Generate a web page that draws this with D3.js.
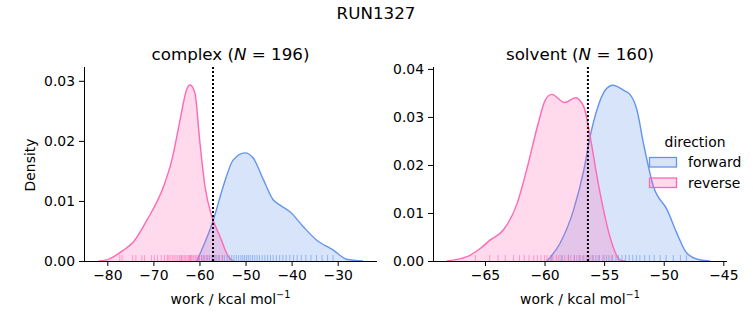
<!DOCTYPE html>
<meta charset="utf-8">
<style>
    body { margin: 0; background: #fff; }
    text { font-family: "DejaVu Sans", sans-serif; fill: #000; }
    .tick text { font-size: 13.9px; }
    .axis path, .axis line { stroke: #000; stroke-width: 1; }
</style>
<svg width="753" height="325"></svg>
<script src="https://d3js.org/d3.v7.min.js"></script>
<script>

// kde curves as [work, density]
var complexForward = [[-60.6,0],[-59.2,0.0024],[-57.0,0.0068],[-54.85,0.0124],[-52.7,0.0168],[-50.1,0.0180],
    [-48.3,0.0171],[-46.1,0.0135],[-44.0,0.0102],[-42.5,0.0093],[-40.35,0.0082],[-37.45,0.0057],
    [-34.6,0.0035],[-30.95,0.0018],[-28.1,0.0003],[-24.5,0]];
var complexReverse = [[-81.9,0],[-80.1,0.0002],[-76.5,0.0018],[-74.3,0.0032],[-71.4,0.0068],[-67.8,0.0124],
    [-66.0,0.0168],[-64.2,0.0235],[-62.8,0.0285],[-62.05,0.0293],[-61.0,0.0280],[-59.9,0.0197],
    [-58.8,0.0124],[-57.3,0.0074],[-55.5,0.0040],[-53.7,0.0007],[-52.6,0]];
var solventForward = [[-59.8,0],[-58.7,0.0037],[-57.57,0.0106],[-56.7,0.0190],[-56.17,0.0260],[-55.6,0.0315],
    [-54.9,0.0356],[-54.26,0.0366],[-53.4,0.0356],[-52.8,0.0346],[-52.25,0.0315],[-51.7,0.0245],
    [-50.86,0.0155],[-49.7,0.0106],[-48.9,0.0058],[-48.05,0.0016],[-46.9,0.0002],[-46.1,0]];
var solventReverse = [[-68.2,0],[-66.5,0.0009],[-65.4,0.0026],[-64.55,0.0044],[-63.44,0.0065],[-62.3,0.0120],
    [-61.5,0.0190],[-60.6,0.0280],[-59.94,0.0335],[-59.4,0.0347],[-58.3,0.0330],[-57.4,0.0340],
    [-56.7,0.0321],[-56.17,0.0259],[-55.6,0.0176],[-55.05,0.0106],[-54.35,0.0037],[-53.65,0.0002],[-53.2,0]];

// rug positions
var complexForwardRug = [-60.1,-59.5,-59.0,-58.4,-57.9,-57.3,-56.8,-56.2,-55.7,-55.1,-54.6,-54.0,-53.5,-53.0,
    -52.5,-52.0,-51.5,-51.0,-50.6,-50.2,-49.8,-49.4,-49.0,-48.5,-48.0,-47.5,-47.0,-46.4,-45.8,-45.2,-44.6,
    -44.0,-43.3,-42.6,-41.9,-41.2,-40.4,-39.6,-38.8,-37.9,-36.9,-35.8,-34.6,-33.4,-32.2,-31.0];
var complexReverseRug = [-77.3,-76.8,-74.5,-73.8,-72.5,-71.9,-70.4,-69.8,-69.1,-68.3,-67.6,-67.0,-66.8,-66.4,
    -65.9,-65.5,-65.1,-64.7,-64.3,-64.0,-63.9,-63.6,-63.3,-63.0,-62.7,-62.4,-62.2,-62.0,-61.9,-61.7,-61.4,
    -61.2,-60.9,-60.6,-60.3,-60.0,-59.6,-59.2,-58.8,-58.3,-57.8,-57.2,-56.5,-55.8,-55.0];
var solventForwardRug = [-59.4,-58.6,-58.0,-57.5,-57.1,-56.7,-56.3,-56.0,-55.7,-55.4,-55.1,-54.8,-54.6,-54.3,
    -54.0,-53.8,-53.5,-53.2,-52.9,-52.6,-52.3,-52.0,-51.6,-51.2,-50.8,-50.3,-49.8,-49.2,-48.6,-48.1];
var solventReverseRug = [-65.8,-64.6,-63.9,-63.3,-62.6,-62.1,-61.7,-61.3,-60.9,-60.6,-60.3,-60.0,-59.8,-59.5,
    -59.3,-59.0,-58.8,-58.5,-58.3,-58.0,-57.8,-57.5,-57.3,-57.0,-56.8,-56.5,-56.2,-55.9,-55.5,-55.0,-54.4];

var complexXTicks = [-80, -70, -60, -50, -40, -30];
var complexYTicks = [0, 0.01, 0.02, 0.03];
var solventXTicks = [-65, -60, -55, -50, -45];
var solventYTicks = [0, 0.01, 0.02, 0.03, 0.04];

var colors = { forward: "#6495ed", reverse: "#ff69b4" };

var svg = d3.select("svg");

svg.append("text")
    .attr("x", 376).attr("y", 19)
    .attr("text-anchor", "middle")
    .attr("font-size", 16.7)
    .text("RUN1327");

function panel(opt) {
    var x = d3.scaleLinear().domain(opt.xDomain).range([opt.left, opt.right]);
    var y = d3.scaleLinear().domain([0, opt.yMax]).range([261, 67]);

    var area = d3.area()
        .x(function(d) { return x(d[0]); })
        .y0(y(0))
        .y1(function(d) { return y(d[1]); })
        .curve(d3.curveMonotoneX);
    var line = area.lineY1();

    var g = svg.append("g");

    opt.series.forEach(function(s) {
        g.append("path")
            .datum(s.kde)
            .attr("d", area)
            .attr("fill", colors[s.name])
            .attr("fill-opacity", 0.25);
        g.append("path")
            .datum(s.kde)
            .attr("d", line)
            .attr("fill", "none")
            .attr("stroke", colors[s.name])
            .attr("stroke-width", 1.4);
    });

    opt.series.forEach(function(s) {
        g.selectAll(null)
            .data(s.rug)
            .enter()
            .append("line")
            .attr("x1", function(d) { return x(d); })
            .attr("x2", function(d) { return x(d); })
            .attr("y1", y(0))
            .attr("y2", y(0) - 6)
            .attr("stroke", colors[s.name])
            .attr("stroke-opacity", 0.6)
            .attr("stroke-width", 1);
    });

    // dotted marker
    g.append("line")
        .attr("x1", x(opt.mark)).attr("x2", x(opt.mark))
        .attr("y1", 67).attr("y2", 261)
        .attr("stroke", "#000")
        .attr("stroke-width", 2)
        .attr("stroke-dasharray", "2,2");

    var xAxis = g.append("g")
        .attr("class", "axis")
        .attr("transform", "translate(0,261)")
        .call(d3.axisBottom(x).tickValues(opt.xTicks).tickSizeOuter(0).tickSize(5).tickPadding(4)
            .tickFormat(function(d) { return d < 0 ? "\u2212" + Math.abs(d) : d; }));
    var yAxis = g.append("g")
        .attr("class", "axis")
        .attr("transform", "translate(" + opt.left + ",0)")
        .call(d3.axisLeft(y).tickValues(opt.yTicks).tickSizeOuter(0).tickSize(5).tickPadding(4)
            .tickFormat(d3.format(".2f")));
    xAxis.select(".domain").attr("d", "M" + opt.left + ",0.5H" + opt.right);
    yAxis.select(".domain").attr("d", "M0.5,261H0.5V67");

    var t = g.append("text")
        .attr("x", (opt.left + opt.right) / 2).attr("y", 60)
        .attr("text-anchor", "middle")
        .attr("font-size", 16.7);
    t.append("tspan").text(opt.title + " (");
    t.append("tspan").attr("font-style", "italic").text("N");
    t.append("tspan").text(" = " + opt.n + ")");

    var xl = g.append("text")
        .attr("x", (opt.left + opt.right) / 2).attr("y", 304)
        .attr("text-anchor", "middle")
        .attr("font-size", 13.9);
    xl.append("tspan").text("work / kcal mol");
    xl.append("tspan").attr("font-size", 9.7).attr("dy", -6).text("\u22121");
}

panel({
    left: 84, right: 377,
    xDomain: [-85.06, -21.47], yMax: 0.0323,
    xTicks: complexXTicks, yTicks: complexYTicks,
    mark: -57.06, title: "complex", n: 196,
    series: [{ name: "forward", kde: complexForward, rug: complexForwardRug },
             { name: "reverse", kde: complexReverse, rug: complexReverseRug }]
});

panel({
    left: 433, right: 727,
    xDomain: [-69.36, -44.69], yMax: 0.0404,
    xTicks: solventXTicks, yTicks: solventYTicks,
    mark: -56.36, title: "solvent", n: 160,
    series: [{ name: "forward", kde: solventForward, rug: solventForwardRug },
             { name: "reverse", kde: solventReverse, rug: solventReverseRug }]
});

svg.append("text")
    .attr("x", 35).attr("y", 165)
    .attr("transform", "rotate(-90,35,165)")
    .attr("text-anchor", "middle")
    .attr("font-size", 13.9)
    .text("Density");

// legend
var legend = svg.append("g");
legend.append("text")
    .attr("x", 695).attr("y", 147)
    .attr("text-anchor", "middle")
    .attr("font-size", 13.9)
    .text("direction");
["forward", "reverse"].forEach(function(name, i) {
    legend.append("rect")
        .attr("x", 649.5).attr("y", 157.5 + i * 20.5)
        .attr("width", 27).attr("height", 9.5)
        .attr("fill", colors[name]).attr("fill-opacity", 0.25)
        .attr("stroke", colors[name]).attr("stroke-width", 1.3);
    legend.append("text")
        .attr("x", 688).attr("y", 167 + i * 20.5)
        .attr("font-size", 13.9)
        .text(name);
});

</script>
